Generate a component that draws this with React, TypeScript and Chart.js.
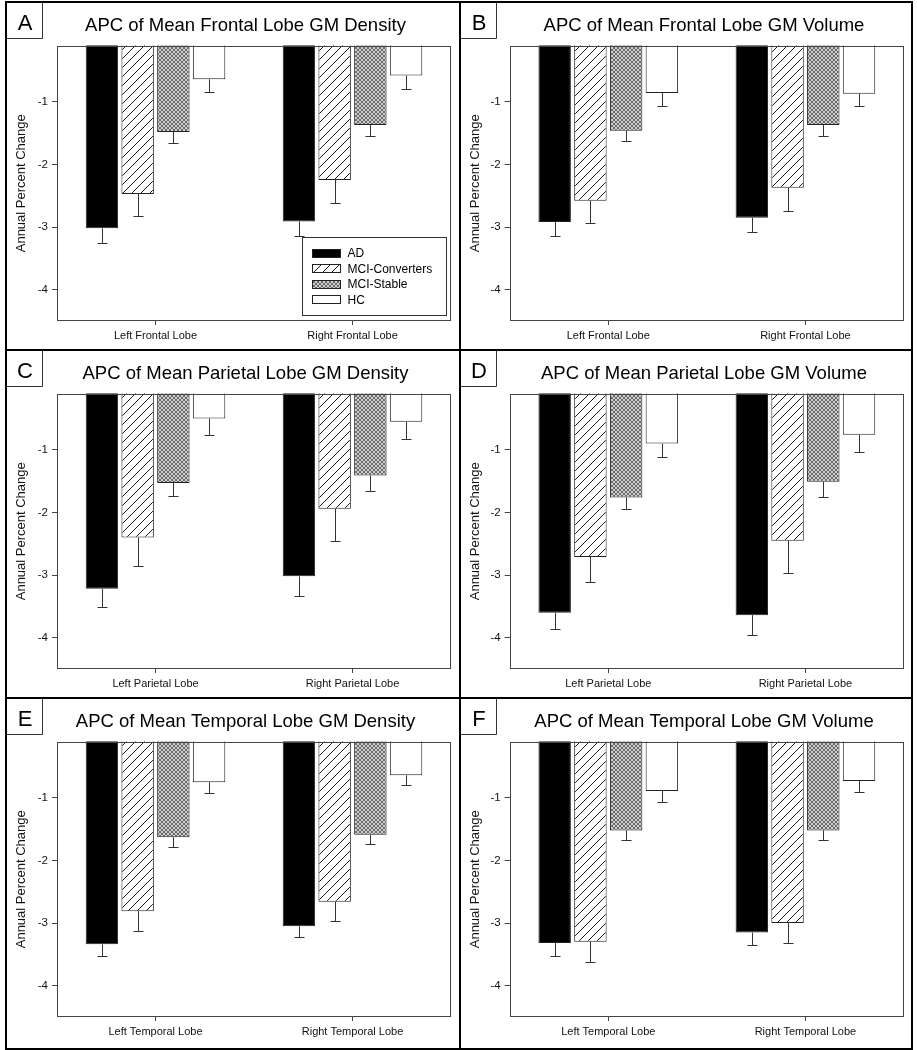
import React, { useEffect, useRef } from "react";
import { Chart, registerables } from "chart.js";

Chart.register(...registerables);

const FONT = "'Liberation Sans', Arial, Helvetica, sans-serif";

// ---------- data ----------
const GROUPS = ["AD", "MCI-Converters", "MCI-Stable", "HC"];
const Y_TICKS = [-1, -2, -3, -4];
const Y_MIN = -4.5;
const Y_MAX = -0.1;
const Y_TITLE = "Annual Percent Change";

const FRONTAL_LABELS = ["Left Frontal Lobe", "Right Frontal Lobe"];
const PARIETAL_LABELS = ["Left Parietal Lobe", "Right Parietal Lobe"];
const TEMPORAL_LABELS = ["Left Temporal Lobe", "Right Temporal Lobe"];

// A: Frontal GM density
const A_AD = [-3.02, -2.91];
const A_MCIC = [-2.47, -2.25];
const A_MCIS = [-1.48, -1.37];
const A_HC = [-0.64, -0.58];
const A_AD_SE = [0.24, 0.23];
const A_MCIC_SE = [0.36, 0.36];
const A_MCIS_SE = [0.17, 0.17];
const A_HC_SE = [0.2, 0.21];

// B: Frontal GM volume
const B_AD = [-2.92, -2.85];
const B_MCIC = [-2.58, -2.37];
const B_MCIS = [-1.46, -1.37];
const B_HC = [-0.86, -0.87];
const B_AD_SE = [0.22, 0.23];
const B_MCIC_SE = [0.36, 0.37];
const B_MCIS_SE = [0.17, 0.17];
const B_HC_SE = [0.2, 0.19];

// C: Parietal GM density
const C_AD = [-3.22, -3.02];
const C_MCIC = [-2.4, -1.94];
const C_MCIS = [-1.53, -1.41];
const C_HC = [-0.5, -0.55];
const C_AD_SE = [0.29, 0.32];
const C_MCIC_SE = [0.46, 0.51];
const C_MCIS_SE = [0.21, 0.24];
const C_HC_SE = [0.26, 0.28];

// D: Parietal GM volume
const D_AD = [-3.6, -3.64];
const D_MCIC = [-2.71, -2.45];
const D_MCIS = [-1.76, -1.51];
const D_HC = [-0.9, -0.76];
const D_AD_SE = [0.26, 0.32];
const D_MCIC_SE = [0.4, 0.51];
const D_MCIS_SE = [0.19, 0.24];
const D_HC_SE = [0.22, 0.28];

// E: Temporal GM density
const E_AD = [-3.34, -3.05];
const E_MCIC = [-2.81, -2.66];
const E_MCIS = [-1.63, -1.59];
const E_HC = [-0.75, -0.64];
const E_AD_SE = [0.18, 0.18];
const E_MCIC_SE = [0.31, 0.3];
const E_MCIS_SE = [0.15, 0.14];
const E_HC_SE = [0.17, 0.16];

// F: Temporal GM volume
const F_AD = [-3.32, -3.15];
const F_MCIC = [-3.3, -3.0];
const F_MCIS = [-1.52, -1.52];
const F_HC = [-0.89, -0.73];
const F_AD_SE = [0.21, 0.2];
const F_MCIC_SE = [0.32, 0.32];
const F_MCIS_SE = [0.15, 0.15];
const F_HC_SE = [0.17, 0.18];

// ---------- fills ----------
function makeHatch(): CanvasPattern | string {
  const c = document.createElement("canvas");
  c.width = 9;
  c.height = 9;
  const g = c.getContext("2d");
  if (!g) return "#fff";
  g.fillStyle = "#fff";
  g.fillRect(0, 0, 9, 9);
  g.strokeStyle = "#1a1a1a";
  g.lineWidth = 1;
  g.beginPath();
  g.moveTo(-1, 10);
  g.lineTo(10, -1);
  g.moveTo(-1, 1);
  g.lineTo(1, -1);
  g.moveTo(8, 10);
  g.lineTo(10, 8);
  g.stroke();
  return g.createPattern(c, "repeat") || "#fff";
}

function makeChecker(): CanvasPattern | string {
  const c = document.createElement("canvas");
  c.width = 4;
  c.height = 4;
  const g = c.getContext("2d");
  if (!g) return "#999";
  g.fillStyle = "#cfcfcf";
  g.fillRect(0, 0, 4, 4);
  g.fillStyle = "#6a6a6a";
  g.fillRect(0, 0, 2, 2);
  g.fillRect(2, 2, 2, 2);
  return g.createPattern(c, "repeat") || "#999";
}

// ---------- layout constants ----------
const PLOT_TOP = 42.5;
const PLOT_BOTTOM = 318;
const AXIS_COLOR = "#444";
const BAR_EDGE = "#222";

type PanelProps = {
  letter: string;
  title: string;
  labels: string[];
  series: number[][];
  errors: number[][];
  legend: boolean;
  left: number;
  top: number;
  width: number;
  height: number;
  plotLeft: number;
  plotRight: number;
  titleX: number;
  yTitlePad: number;
};

function Panel(p: PanelProps) {
  const ref = useRef<HTMLCanvasElement | null>(null);
  const cw = p.width - 4;
  const ch = p.height - 4;

  useEffect(() => {
    const canvas = ref.current;
    if (!canvas) return;
    const fills = ["#000", makeHatch(), makeChecker(), "#fff"];

    const decor = {
      id: "decor",
      afterDatasetsDraw(chart: any) {
        const ctx = chart.ctx;
        const ca = chart.chartArea;
        const yScale = chart.scales.y;
        ctx.save();
        // error bars
        ctx.strokeStyle = "#333";
        ctx.lineWidth = 1;
        chart.data.datasets.forEach((ds: any, i: number) => {
          const meta = chart.getDatasetMeta(i);
          meta.data.forEach((el: any, j: number) => {
            const v = ds.data[j];
            const e = ds.errors[j];
            const x = Math.round(el.x) + 0.5;
            const y1 = el.y;
            const y2 = Math.round(yScale.getPixelForValue(v - e)) + 0.5;
            ctx.beginPath();
            ctx.moveTo(x, y1);
            ctx.lineTo(x, y2);
            ctx.moveTo(x - 5, y2);
            ctx.lineTo(x + 5, y2);
            ctx.stroke();
          });
        });
        // frame
        ctx.strokeStyle = AXIS_COLOR;
        const l = Math.round(ca.left) + 0.5;
        const t = Math.round(ca.top) + 0.5;
        const r = Math.round(ca.right) - 0.5;
        const b = Math.round(ca.bottom) - 0.5;
        ctx.strokeRect(l, t, r - l, b - t);
        ctx.restore();
      },
      afterDraw(chart: any) {
        const ctx = chart.ctx;
        const ca = chart.chartArea;
        ctx.save();
        // letter box
        ctx.strokeStyle = "#333";
        ctx.lineWidth = 1;
        ctx.beginPath();
        ctx.moveTo(35.5, 0);
        ctx.lineTo(35.5, 35.5);
        ctx.lineTo(0, 35.5);
        ctx.stroke();
        ctx.fillStyle = "#000";
        ctx.font = `22px ${FONT}`;
        ctx.textAlign = "center";
        ctx.textBaseline = "alphabetic";
        ctx.fillText(p.letter, 18, 26.5);
        // title
        ctx.font = `18.5px ${FONT}`;
        ctx.fillText(p.title, p.titleX, 28);
        // legend
        if (p.legend) {
          const w = 144;
          const h = 78;
          const x0 = Math.round(ca.right - 5 - w) + 0.5;
          const y0 = Math.round(ca.bottom - 6 - h) + 0.5;
          ctx.fillStyle = "#fff";
          ctx.fillRect(x0, y0, w, h);
          ctx.strokeStyle = "#333";
          ctx.strokeRect(x0, y0, w, h);
          ctx.font = `12px ${FONT}`;
          ctx.textAlign = "left";
          ctx.textBaseline = "middle";
          GROUPS.forEach((g, i) => {
            const cy = y0 + 15.7 + i * 15.5;
            const sx = Math.round(x0 + 9);
            const sy = Math.round(cy - 4.5);
            ctx.fillStyle = fills[i];
            ctx.fillRect(sx, sy, 29, 9);
            ctx.strokeStyle = BAR_EDGE;
            ctx.strokeRect(sx + 0.5, sy + 0.5, 28, 8);
            ctx.fillStyle = "#000";
            ctx.fillText(g, x0 + 45, cy + 0.5);
          });
        }
        ctx.restore();
      },
    };

    const chart = new Chart(canvas, {
      type: "bar",
      data: {
        labels: p.labels,
        datasets: GROUPS.map((g, i) => ({
          label: g,
          data: p.series[i],
          errors: p.errors[i],
          backgroundColor: fills[i],
          borderColor: BAR_EDGE,
          borderWidth: 1,
          categoryPercentage: 0.725,
          barPercentage: 0.908,
          clip: 0,
        })) as any,
      },
      options: {
        responsive: false,
        animation: false,
        devicePixelRatio: 1,
        layout: {
          padding: { top: PLOT_TOP, right: cw - p.plotRight, left: 0, bottom: 0 },
        },
        plugins: {
          legend: { display: false },
          tooltip: { enabled: false },
          title: { display: false },
        },
        scales: {
          x: {
            type: "category",
            offset: true,
            grid: {
              display: true,
              drawOnChartArea: false,
              offset: false,
              drawTicks: true,
              tickLength: 4,
              color: AXIS_COLOR,
              tickColor: AXIS_COLOR,
            },
            border: { display: false },
            ticks: {
              color: "#111",
              font: { family: FONT, size: 11 },
              padding: 4,
              maxRotation: 0,
              autoSkip: false,
            },
            afterFit: (s: any) => {
              s.height = ch - PLOT_BOTTOM;
            },
          },
          y: {
            min: Y_MIN,
            max: Y_MAX,
            grid: {
              display: true,
              drawOnChartArea: false,
              drawTicks: true,
              tickLength: 5,
              color: AXIS_COLOR,
              tickColor: AXIS_COLOR,
            },
            border: { display: false },
            ticks: {
              color: "#111",
              font: { family: FONT, size: 11.5 },
              padding: 4,
              callback: (v: any) => String(v),
            },
            afterBuildTicks: (s: any) => {
              s.ticks = Y_TICKS.map((v) => ({ value: v }));
            },
            afterFit: (s: any) => {
              s.width = p.plotLeft;
            },
            title: {
              display: true,
              text: Y_TITLE,
              color: "#111",
              font: { family: FONT, size: 13 },
              padding: { top: p.yTitlePad, bottom: 0 },
            },
          },
        },
      } as any,
      plugins: [decor],
    });
    return () => chart.destroy();
  }, []);

  return (
    <div
      style={{
        position: "absolute",
        left: p.left,
        top: p.top,
        width: p.width,
        height: p.height,
        border: "2px solid #000",
        boxSizing: "border-box",
        background: "#fff",
        overflow: "hidden",
      }}
    >
      <canvas
        ref={ref}
        width={cw}
        height={ch}
        style={{ display: "block", width: cw, height: ch }}
      />
    </div>
  );
}

const COL1 = { left: 5, width: 456, plotLeft: 50, plotRight: 444, titleX: 238.5, yTitlePad: 6.2 };
const COL2 = { left: 459, width: 454, plotLeft: 48.7, plotRight: 443, titleX: 243, yTitlePad: 6.7 };
const ROW1 = { top: 1, height: 350 };
const ROW2 = { top: 349, height: 350 };
const ROW3 = { top: 697, height: 353 };

export default function App() {
  return (
    <div style={{ position: "absolute", left: 0, top: 0, width: 917, height: 1050, overflow: "hidden" }}>
      <Panel
        letter="A"
        title="APC of Mean Frontal Lobe GM Density"
        labels={FRONTAL_LABELS}
        series={[A_AD, A_MCIC, A_MCIS, A_HC]}
        errors={[A_AD_SE, A_MCIC_SE, A_MCIS_SE, A_HC_SE]}
        legend={true}
        {...COL1}
        {...ROW1}
      />
      <Panel
        letter="B"
        title="APC of Mean Frontal Lobe GM Volume"
        labels={FRONTAL_LABELS}
        series={[B_AD, B_MCIC, B_MCIS, B_HC]}
        errors={[B_AD_SE, B_MCIC_SE, B_MCIS_SE, B_HC_SE]}
        legend={false}
        {...COL2}
        {...ROW1}
      />
      <Panel
        letter="C"
        title="APC of Mean Parietal Lobe GM Density"
        labels={PARIETAL_LABELS}
        series={[C_AD, C_MCIC, C_MCIS, C_HC]}
        errors={[C_AD_SE, C_MCIC_SE, C_MCIS_SE, C_HC_SE]}
        legend={false}
        {...COL1}
        {...ROW2}
      />
      <Panel
        letter="D"
        title="APC of Mean Parietal Lobe GM Volume"
        labels={PARIETAL_LABELS}
        series={[D_AD, D_MCIC, D_MCIS, D_HC]}
        errors={[D_AD_SE, D_MCIC_SE, D_MCIS_SE, D_HC_SE]}
        legend={false}
        {...COL2}
        {...ROW2}
      />
      <Panel
        letter="E"
        title="APC of Mean Temporal Lobe GM Density"
        labels={TEMPORAL_LABELS}
        series={[E_AD, E_MCIC, E_MCIS, E_HC]}
        errors={[E_AD_SE, E_MCIC_SE, E_MCIS_SE, E_HC_SE]}
        legend={false}
        {...COL1}
        {...ROW3}
      />
      <Panel
        letter="F"
        title="APC of Mean Temporal Lobe GM Volume"
        labels={TEMPORAL_LABELS}
        series={[F_AD, F_MCIC, F_MCIS, F_HC]}
        errors={[F_AD_SE, F_MCIC_SE, F_MCIS_SE, F_HC_SE]}
        legend={false}
        {...COL2}
        {...ROW3}
      />
    </div>
  );
}
